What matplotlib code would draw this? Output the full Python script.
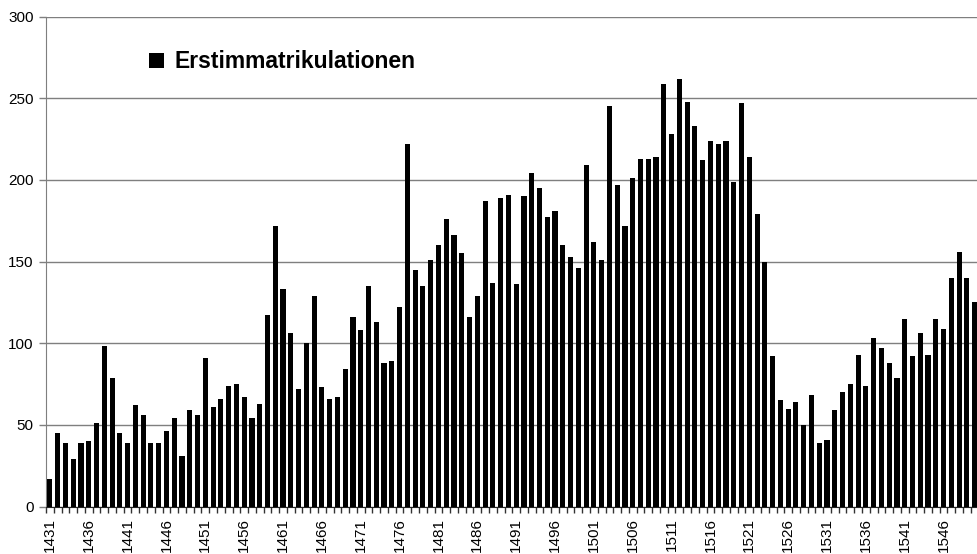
import numpy as np
import matplotlib
matplotlib.use('Agg')
import matplotlib.pyplot as plt
from matplotlib.ticker import MultipleLocator

plt.rcParams['font.family'] = ['Liberation Sans', 'DejaVu Sans']

years = list(range(1431, 1551))
matrikel = [
    17, 45, 39, 29, 39, 40, 51, 98, 79, 45,        # 1431-1440
    39, 62, 56, 39, 39, 46, 54, 31, 59, 56,        # 1441-1450
    91, 61, 66, 74, 75, 67, 54, 63, 117, 172,      # 1451-1460
    133, 106, 72, 100, 129, 73, 66, 67, 84, 116,   # 1461-1470
    108, 135, 113, 88, 89, 122, 222, 145, 135, 151,  # 1471-1480
    160, 176, 166, 155, 116, 129, 187, 137, 189, 191,  # 1481-1490
    136, 190, 204, 195, 177, 181, 160, 153, 146, 209,  # 1491-1500
    162, 151, 245, 197, 172, 201, 213, 213, 214, 259,  # 1501-1510
    228, 262, 248, 233, 212, 224, 222, 224, 199, 247,  # 1511-1520
    214, 179, 150, 92, 65, 60, 64, 50, 68, 39,     # 1521-1530
    41, 59, 70, 75, 93, 74, 103, 97, 88, 79,       # 1531-1540
    115, 92, 106, 93, 115, 109, 140, 156, 140, 125,  # 1541-1550
]
label_years = years[::5]
y_ticks = [0, 50, 100, 150, 200, 250, 300]

fig = plt.figure(figsize=(9.77, 5.54), dpi=100)
ax = fig.add_axes([0.0471, 0.0857, 0.9529, 0.8843])

ax.bar(years, matrikel, width=0.66, color='black', zorder=3,
       label='Erstimmatrikulationen')

ax.set_ylim(0, 300)
ax.set_xlim(years[0] - 0.5, 1550.3)
ax.set_yticks(y_ticks)
ax.yaxis.grid(True, color='#7f7f7f', linewidth=1.0, zorder=0)
ax.tick_params(axis='y', length=5, width=1, color='#7f7f7f', pad=4, labelsize=11)

ax.set_xticks(label_years)
ax.set_xticklabels([str(y) for y in label_years], rotation=90, fontsize=11)
ax.xaxis.set_minor_locator(MultipleLocator(1, offset=0.5))
ax.tick_params(axis='x', which='major', length=0, pad=8)
ax.tick_params(axis='x', which='minor', length=4, width=1, color='#333333')

for side in ['top', 'right']:
    ax.spines[side].set_visible(False)
ax.spines['left'].set_color('#7f7f7f')
ax.spines['bottom'].set_color('#222222')

leg = ax.legend(loc='center left', bbox_to_anchor=(0.1106, 0.9075),
                frameon=False, borderpad=0, borderaxespad=0,
                handlelength=0.65, handleheight=0.65, handletextpad=0.45,
                prop={'size': 16.5, 'weight': 'bold'})

fig.savefig('out.png', dpi=100)
plt.close()
